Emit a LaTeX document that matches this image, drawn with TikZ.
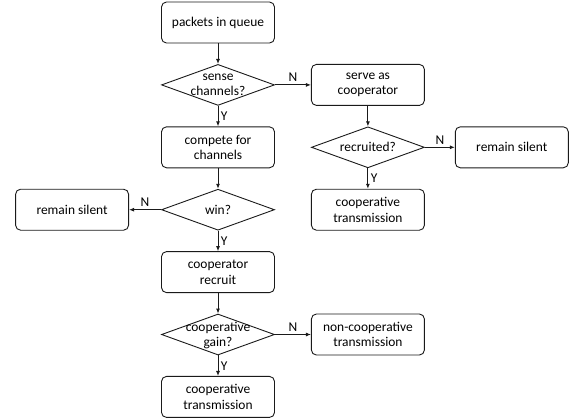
\documentclass[tikz,border=0pt]{standalone}
\usepackage{fontspec}
\setmainfont{Carlito}
\usetikzlibrary{arrows.meta,positioning,shapes.geometric}
\definecolor{ink}{HTML}{1A1A1A}

\begin{document}
\begin{tikzpicture}[x=1bp,y=1bp,node distance=20.5bp and 36bp]
    \tikzset{
      stepbox/.style={rounded corners=5bp,draw=ink,line width=0.9bp,minimum width=113bp,minimum height=41bp,align=center,inner sep=1bp,font=\fontsize{13.5}{15.5}\selectfont},
      decision/.style={diamond,draw=ink,line width=0.9bp,minimum width=113bp,minimum height=41bp,inner sep=0pt},
      qtext/.style={align=center,inner sep=0pt,font=\fontsize{13.5}{15}\selectfont},
      arrow/.style={-{Latex[length=5bp,width=4bp]},draw=ink,line width=0.9bp},
      yn/.style={inner sep=2.5bp,font=\fontsize{13.5}{15}\selectfont}
    }
    \useasboundingbox (0,0) rectangle (574,-417);
    \node[stepbox] (queue) at (218,-22.5) {packets in queue};
    \node[decision,below=of queue] (sense) {};
    \node[qtext] at (sense) {sense\\channels?};
    \node[stepbox,right=of sense] (serve) {serve as\\cooperator};
    \node[stepbox,below=of sense] (compete) {compete for\\channels};
    \node[decision,below=of serve] (recruited) {};
    \node[qtext] at (recruited) {recruited?};
    \node[stepbox,right=30bp of recruited] (silentR) {remain silent};
    \node[stepbox,below=of recruited] (coopR) {cooperative\\transmission};
    \node[decision,below=of compete] (win) {};
    \node[qtext] at (win) {win?};
    \node[stepbox,left=32bp of win] (silentL) {remain silent};
    \node[stepbox,below=of win] (recruit) {cooperator\\recruit};
    \node[decision,below=of recruit] (gain) {};
    \node[qtext] at ([yshift=-1bp]gain.center) {cooperative\\gain?};
    \node[stepbox,right=of gain] (noncoop) {non-cooperative\\transmission};
    \node[stepbox,below=of gain] (coop) {cooperative\\transmission};
    \draw[arrow] (queue) -- (sense);
    \draw[arrow] (sense) -- node[yn,above]{N} (serve);
    \draw[arrow] (sense) -- node[yn,right]{Y} (compete);
    \draw[arrow] (serve) -- (recruited);
    \draw[arrow] (recruited) -- node[yn,above]{N} (silentR);
    \draw[arrow] (recruited) -- node[yn,right]{Y} (coopR);
    \draw[arrow] (compete) -- (win);
    \draw[arrow] (win) -- node[yn,above]{N} (silentL);
    \draw[arrow] (win) -- node[yn,right]{Y} (recruit);
    \draw[arrow] (recruit) -- (gain);
    \draw[arrow] (gain) -- node[yn,above]{N} (noncoop);
    \draw[arrow] (gain) -- node[yn,right]{Y} (coop);
  \end{tikzpicture}
\end{document}
